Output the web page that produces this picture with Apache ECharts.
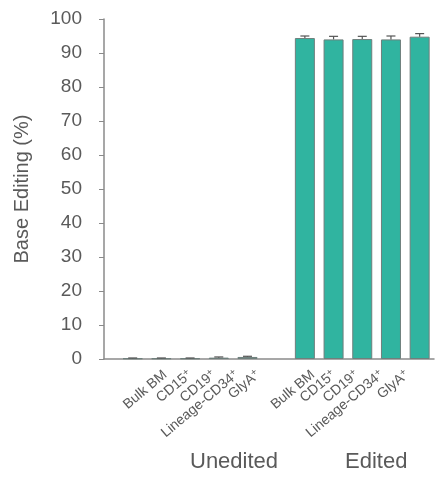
<!DOCTYPE html>
<html>
<head>
<meta charset="utf-8">
<script src="https://cdn.jsdelivr.net/npm/echarts@6/dist/echarts.min.js"></script>
<style>
  html, body { margin: 0; padding: 0; background: #fff; }
  #chart { width: 443px; height: 480px; }
</style>
</head>
<body>
<div id="chart"></div>
<script>
// Cell populations, shown once per group
const populations = ['Bulk BM', 'CD15+', 'CD19+', 'Lineage-CD34+', 'GlyA+'];
const groups = ['Unedited', 'Edited'];
// Positions of the bars along the x axis (gap of one slot between groups)
const uneditedPos = [1, 2, 3, 4, 5];
const editedPos = [7, 8, 9, 10, 11];
// Where each population name sits under its group (names are packed tighter than the bars)
const uneditedLabelPos = [2.13, 3.0, 3.83, 4.63, 5.37];
const editedLabelPos = [7.28, 8.01, 8.81, 9.68, 10.56];
// Mean base editing (%) and error (SD)
const uneditedMean = [0.2, 0.2, 0.2, 0.4, 0.6];
const uneditedErr = [0.1, 0.1, 0.1, 0.2, 0.2];
const editedMean = [94.4, 94.0, 94.1, 94.0, 94.8];
const editedErr = [0.6, 0.9, 0.8, 1.0, 0.9];
const yTicks = [0, 10, 20, 30, 40, 50, 60, 70, 80, 90, 100];

const FONT = 'Liberation Sans, Arial, sans-serif';
const TEXT = '#5a5a5a';
const AXIS = '#8a8a8a';
const FILL = '#30b4a0';

const labelPos = uneditedLabelPos.concat(editedLabelPos);
const labelNames = populations.concat(populations);

function fmtLabel(v) {
  let idx = 0, best = Infinity;
  labelPos.forEach((p, i) => { const d = Math.abs(p - v); if (d < best) { best = d; idx = i; } });
  const name = labelNames[idx];
  if (name.endsWith('+')) return '{t|' + name.slice(0, -1) + '}{s|+}';
  return '{t|' + name + '}';
}

const barData = uneditedPos.map((p, i) => [p, uneditedMean[i]])
  .concat(editedPos.map((p, i) => [p, editedMean[i]]));
const errData = uneditedPos.map((p, i) => [p, uneditedMean[i], uneditedErr[i]])
  .concat(editedPos.map((p, i) => [p, editedMean[i], editedErr[i]]));

const chart = echarts.init(document.getElementById('chart'));
chart.setOption({
  animation: false,
  textStyle: { fontFamily: FONT },
  grid: { left: 104, right: 9, top: 19, bottom: 121 },
  xAxis: {
    type: 'value',
    min: 0,
    max: 11.5,
    splitLine: { show: false },
    axisLine: { show: true, onZero: false, lineStyle: { color: AXIS, width: 1.5 } },
    axisTick: { show: false },
    axisLabel: {
      customValues: labelPos,
      formatter: fmtLabel,
      rotate: 40,
      margin: 14,
      color: TEXT,
      rich: {
        t: { fontSize: 14, color: TEXT, fontFamily: FONT },
        s: { fontSize: 10, color: TEXT, verticalAlign: 'top', padding: [0, 0, 6, 0], fontFamily: FONT }
      }
    }
  },
  yAxis: {
    type: 'value',
    min: 0,
    max: 100,
    interval: 10,
    name: 'Base Editing (%)',
    nameLocation: 'middle',
    nameGap: 72,
    nameTextStyle: { fontSize: 20, color: TEXT, fontFamily: FONT },
    splitLine: { show: false },
    axisLine: { show: true, lineStyle: { color: AXIS, width: 1.5 } },
    axisTick: { show: true, length: 5, lineStyle: { color: AXIS } },
    axisLabel: {
      margin: 22,
      fontSize: 19,
      color: TEXT,
      fontFamily: FONT,
      formatter: v => yTicks.includes(v) ? String(v) : ''
    }
  },
  series: [
    {
      type: 'bar',
      data: barData,
      barWidth: 20,
      itemStyle: { color: FILL, borderColor: '#6f7f7c', borderWidth: 1 }
    },
    {
      type: 'custom',
      data: errData,
      z: 5,
      renderItem: function (params, api) {
        const x = api.value(0);
        const m = api.value(1);
        const e = api.value(2);
        const top = api.coord([x, m + e]);
        const base = api.coord([x, m]);
        const half = 4.5;
        const style = { stroke: '#555', lineWidth: 1.2 };
        return {
          type: 'group',
          children: [
            { type: 'line', shape: { x1: top[0], y1: top[1], x2: base[0], y2: base[1] }, style: style },
            { type: 'line', shape: { x1: top[0] - half, y1: top[1], x2: top[0] + half, y2: top[1] }, style: style }
          ]
        };
      }
    }
  ],
  graphic: [
    { type: 'text', left: 190, top: 451, style: { text: groups[0], fontSize: 22, fill: TEXT, fontFamily: FONT } },
    { type: 'text', left: 345, top: 451, style: { text: groups[1], fontSize: 22, fill: TEXT, fontFamily: FONT } }
  ]
});
</script>
</body>
</html>
